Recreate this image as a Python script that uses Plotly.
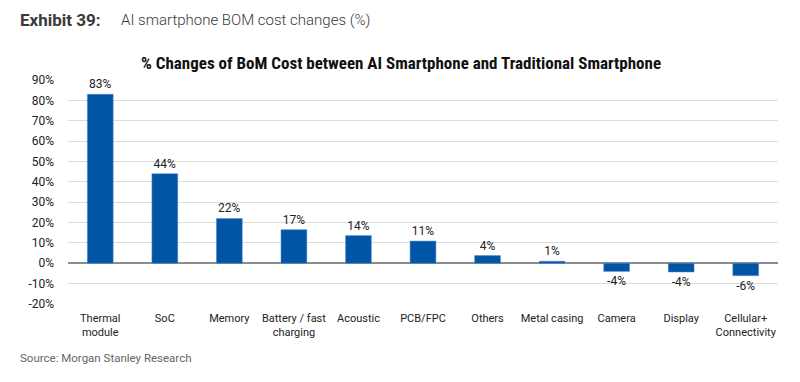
import plotly.graph_objects as go

categories = ["Thermal<br>module", "SoC", "Memory", "Battery / fast<br>charging", "Acoustic",
              "PCB/FPC", "Others", "Metal casing", "Camera", "Display", "Cellular+<br>Connectivity"]
values = [83.0, 44.0, 22.0, 16.5, 13.6, 10.9, 3.8, 1.0, -4.0, -4.3, -6.1]
labels = ["83%", "44%", "22%", "17%", "14%", "11%", "4%", "1%", "-4%", "-4%", "-6%"]
y_ticks = [90, 80, 70, 60, 50, 40, 30, 20, 10, 0, -10, -20]
y_tick_labels = [f"{v}%" for v in y_ticks]

FONT = "Roboto, Arial, sans-serif"
L, R, T, B = 68, 22, 80, 78
PW, PH = 800 - L - R, 382 - T - B

fig = go.Figure()
fig.add_trace(go.Bar(
    x=categories, y=values,
    marker=dict(color="#0055A5", line=dict(color="#4d8fd0", width=0.5)),
    width=0.4,
    text=labels, textposition="outside", cliponaxis=False,
    textfont=dict(family=FONT, size=12, color="#222222"),
))

fig.update_layout(
    width=800, height=382,
    margin=dict(l=L, r=R, t=T, b=B, autoexpand=False),
    paper_bgcolor="white", plot_bgcolor="white",
    showlegend=False,
    font=dict(family=FONT, size=12, color="#222222"),
)
fig.update_xaxes(
    showgrid=False, showline=False, ticks="", tickfont=dict(size=11, color="#222222"),
    tickangle=0, automargin=False, ticklabelstandoff=6,
)
fig.update_yaxes(
    range=[-20, 90], tickvals=y_ticks, ticktext=y_tick_labels,
    showgrid=True, gridcolor="#dcdcdc", gridwidth=1,
    zeroline=True, zerolinecolor="#8c8c8c", zerolinewidth=1.5,
    ticks="", ticklabelstandoff=13, tickfont=dict(size=12, color="#222222"),
    showline=False, automargin=False,
)

fig.update_layout(annotations=[
    dict(xref="paper", yref="paper", x=(18 - L) / PW, y=1 + (T - 20) / PH,
         xanchor="left", yanchor="middle", showarrow=False,
         text="<b>Exhibit 39:</b>",
         font=dict(family=FONT, size=17, color="#3a3a3a")),
    dict(xref="paper", yref="paper", x=(119 - L) / PW, y=1 + (T - 20) / PH,
         xanchor="left", yanchor="middle", showarrow=False,
         text="AI smartphone BOM cost changes (%)",
         font=dict(family=FONT, size=15, color="#3a3a3a", weight=300)),
    dict(xref="paper", yref="paper", x=(401 - L) / PW, y=1 + (T - 63) / PH,
         xanchor="center", yanchor="middle", showarrow=False,
         text="<b>% Changes of BoM Cost between AI Smartphone and Traditional Smartphone</b>",
         font=dict(family="'Liberation Sans Narrow', 'Roboto Condensed', Roboto, sans-serif",
                   size=17, color="#111111")),
    dict(xref="paper", yref="paper", x=(18 - L) / PW, y=-(358 - (T + PH)) / PH,
         xanchor="left", yanchor="middle", showarrow=False,
         text="Source: Morgan Stanley Research",
         font=dict(family=FONT, size=11.5, color="#666666")),
])

fig.write_html("out.html", config={"displayModeBar": False},
               post_script="document.body.style.margin='0';")
